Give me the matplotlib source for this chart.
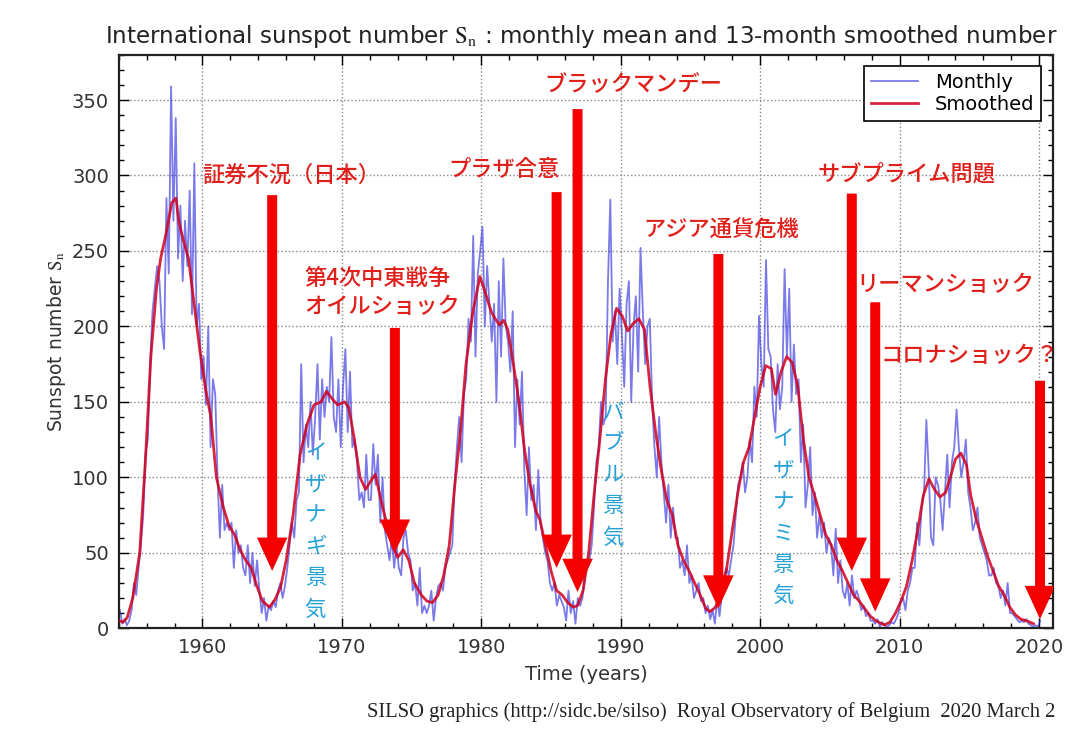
import numpy as np
import matplotlib
matplotlib.use('Agg')
import matplotlib.pyplot as plt
from matplotlib.patches import FancyArrowPatch, ArrowStyle
from matplotlib.ticker import MultipleLocator

plt.rcParams['font.family'] = ['DejaVu Sans', 'Noto Sans CJK JP']
plt.rcParams['mathtext.fontset'] = 'stix'

# ---------------- data ----------------
# monthly mean sunspot number, sampled every two months (6 values per year) from 1954
monthly_start = 1954.0
monthly_sn = [
    12, 3, 6, 2, 5, 12,            # 1954
    30, 22, 40, 55, 75, 115,       # 1955
    125, 175, 210, 225, 240, 230,  # 1956
    200, 185, 285, 235, 359, 270,  # 1957
    338, 245, 280, 230, 270, 240,  # 1958
    290, 208, 308, 200, 215, 165,  # 1959
    180, 148, 200, 120, 165, 155,  # 1960
    100, 60, 95, 65, 70, 65,       # 1961
    70, 40, 65, 50, 55, 40,        # 1962
    35, 55, 30, 50, 28, 45,        # 1963
    25, 10, 20, 5, 15, 12,         # 1964
    18, 14, 25, 30, 20, 28,        # 1965
    40, 55, 70, 60, 85, 90,        # 1966
    175, 110, 135, 120, 150, 115,  # 1967
    140, 175, 125, 165, 140, 160,  # 1968
    150, 193, 140, 130, 165, 120,  # 1969
    160, 185, 130, 170, 120, 125,  # 1970
    110, 85, 90, 80, 115, 85,      # 1971
    85, 122, 95, 115, 70, 100,     # 1972
    65, 55, 45, 60, 40, 55,        # 1973
    40, 35, 60, 65, 50, 45,        # 1974
    25, 30, 15, 40, 10, 15,        # 1975
    10, 15, 25, 5, 20, 28,         # 1976
    30, 25, 40, 45, 50, 55,        # 1977
    95, 120, 140, 110, 155, 165,   # 1978
    205, 190, 260, 180, 235, 250,  # 1979
    266, 200, 240, 215, 190, 215,  # 1980
    150, 230, 180, 245, 200, 190,  # 1981
    170, 210, 120, 165, 135, 170,  # 1982
    105, 75, 120, 85, 95, 65,      # 1983
    105, 70, 60, 50, 45, 30,       # 1984
    25, 30, 15, 22, 18, 14,        # 1985
    5, 25, 10, 18, 3, 20,          # 1986
    15, 20, 35, 40, 45, 55,        # 1987
    80, 110, 120, 150, 135, 140,   # 1988
    230, 284, 190, 210, 175, 225,  # 1989
    195, 160, 215, 230, 150, 200,  # 1990
    220, 170, 252, 210, 175, 200,  # 1991
    205, 150, 120, 100, 140, 110,  # 1992
    90, 70, 95, 60, 80, 60,        # 1993
    60, 40, 45, 35, 55, 30,        # 1994
    35, 20, 25, 30, 18, 20,        # 1995
    10, 15, 6, 12, 3, 20,          # 1996
    8, 22, 25, 40, 35, 45,         # 1997
    55, 75, 95, 100, 110, 90,      # 1998
    100, 125, 110, 160, 140, 207,  # 1999
    175, 160, 244, 185, 180, 145,  # 2000
    130, 175, 145, 160, 238, 180,  # 2001
    225, 150, 188, 155, 165, 110,  # 2002
    135, 80, 95, 120, 75, 90,      # 2003
    60, 75, 60, 70, 50, 60,        # 2004
    55, 35, 66, 30, 45, 25,        # 2005
    20, 30, 15, 35, 20, 25,        # 2006
    20, 12, 15, 8, 10, 5,          # 2007
    5, 3, 6, 1, 4, 2,              # 2008
    1, 2, 4, 3, 6, 10,             # 2009
    18, 20, 12, 25, 30, 40,        # 2010
    40, 70, 55, 80, 90, 138,       # 2011
    105, 60, 55, 100, 95, 85,      # 2012
    65, 90, 115, 80, 110, 120,     # 2013
    145, 120, 100, 110, 125, 90,   # 2014
    80, 65, 70, 80, 60, 55,        # 2015
    50, 45, 35, 35, 40, 30,        # 2016
    28, 20, 25, 15, 30, 10,        # 2017
    10, 8, 6, 4, 5, 4,             # 2018
    6, 3, 2, 1, 2, 1,              # 2019
    5,                             # 2020
]

# 13-month smoothed sunspot number
smooth_years = [
    1954.0, 1954.3, 1954.6, 1955.0, 1955.5, 1955.9, 1956.3, 1956.7, 1957.0, 1957.4,
    1957.8, 1958.1, 1958.3, 1958.6, 1959.0, 1959.4, 1959.8, 1960.2, 1960.6, 1961.0,
    1961.5, 1961.9, 1962.3, 1962.7, 1963.1, 1963.5, 1963.9, 1964.3, 1964.8, 1965.2,
    1965.6, 1966.0, 1966.5, 1967.0, 1967.5, 1968.0, 1968.5, 1968.9, 1969.3, 1969.7,
    1970.2, 1970.5, 1970.9, 1971.3, 1971.7, 1972.1, 1972.4, 1972.8, 1973.2, 1973.6,
    1974.0, 1974.4, 1974.8, 1975.2, 1975.7, 1976.1, 1976.5, 1976.9, 1977.3, 1977.7,
    1978.1, 1978.5, 1978.9, 1979.4, 1979.9, 1980.3, 1980.7, 1981.0, 1981.3, 1981.6,
    1981.9, 1982.3, 1982.7, 1983.1, 1983.5, 1983.9, 1984.2, 1984.6, 1985.0, 1985.4,
    1985.8, 1986.2, 1986.6, 1986.9, 1987.3, 1987.7, 1988.1, 1988.5, 1988.9, 1989.3,
    1989.7, 1990.1, 1990.5, 1990.9, 1991.3, 1991.7, 1992.1, 1992.5, 1992.9, 1993.3,
    1993.7, 1994.1, 1994.5, 1994.9, 1995.3, 1995.7, 1996.1, 1996.4, 1996.8, 1997.2,
    1997.6, 1998.0, 1998.4, 1998.8, 1999.2, 1999.6, 2000.0, 2000.4, 2000.8, 2001.1,
    2001.5, 2001.9, 2002.3, 2002.7, 2003.1, 2003.5, 2003.9, 2004.3, 2004.7, 2005.1,
    2005.5, 2005.9, 2006.3, 2006.7, 2007.1, 2007.5, 2007.9, 2008.3, 2008.9, 2009.3,
    2009.7, 2010.1, 2010.5, 2010.9, 2011.3, 2011.7, 2012.1, 2012.5, 2012.9, 2013.3,
    2013.7, 2014.0, 2014.4, 2014.8, 2015.1, 2015.5, 2015.9, 2016.3, 2016.7, 2017.1,
    2017.5, 2017.9, 2018.3, 2018.7, 2019.1, 2019.6,
]
smooth_sn = [
    5, 4, 7, 20, 50, 110, 180, 225, 245, 262,
    282, 285, 270, 258, 245, 215, 185, 160, 140, 100,
    80, 68, 62, 52, 45, 40, 28, 18, 14, 19,
    27, 45, 75, 115, 135, 148, 150, 157, 152, 148,
    150, 146, 125, 100, 92, 98, 102, 85, 70, 55,
    47, 52, 45, 30, 22, 18, 17, 22, 35, 55,
    95, 130, 175, 210, 233, 222, 210, 205, 201, 204,
    198, 175, 150, 118, 95, 78, 72, 55, 38, 25,
    22, 17, 14, 15, 25, 50, 90, 125, 165, 195,
    212, 207, 197, 202, 205, 198, 160, 130, 105, 85,
    75, 55, 45, 38, 30, 22, 13, 11, 14, 25,
    40, 65, 90, 110, 120, 140, 160, 174, 172, 155,
    170, 180, 176, 160, 125, 100, 88, 75, 62, 55,
    45, 38, 30, 22, 18, 13, 8, 5, 2.2, 4,
    10, 18, 28, 45, 65, 88, 99, 92, 87, 90,
    102, 112, 116, 108, 88, 72, 60, 48, 38, 28,
    22, 14, 9, 6, 5, 3,
]

# economic events (arrow year, arrow top value, arrow tip value)
events = ['証券不況（日本）', '第4次中東戦争\nオイルショック', 'プラザ合意', 'ブラックマンデー',
          'アジア通貨危機', 'サブプライム問題', 'リーマンショック', 'コロナショック？']
event_year = [1965.0, 1973.8, 1985.4, 1986.9, 1997.0, 2006.57, 2008.25, 2020.07]
arrow_top = [287, 199, 289, 344, 248, 288, 216, 164]
arrow_tip = [38, 50, 40, 24, 13, 38, 11, 6]

booms = ['イザナギ景気', 'バブル景気', 'イザナミ景気']
boom_year = [1968.1, 1989.45, 2001.65]

# layout of the event labels (x, y in data units, horizontal alignment)
label_pos = [(1966.4, 300, 'center'), (1967.3, 222, 'left'), (1981.65, 304, 'center'),
             (1990.9, 360, 'center'), (1997.2, 264, 'center'), (2010.5, 301, 'center'),
             (2013.3, 228, 'center'), (2015.0, 181, 'center')]
boom_top = [116, 143, 125]

# ---------------- figure ----------------
fig = plt.figure(figsize=(10.8, 7.4), dpi=100)
ax = fig.add_axes([0.110, 0.151, 0.865, 0.775])

t_month = monthly_start + (np.arange(len(monthly_sn)) + 0.5) / 6.0
ax.plot(t_month, monthly_sn, color='#2828dd', lw=1.3, alpha=0.62, label='Monthly', zorder=2)
ax.plot(smooth_years, smooth_sn, color='#d0001c', lw=2.0, alpha=0.85, label='Smoothed', zorder=3)

ax.set_xlim(1954.0, 2021.0)
ax.set_ylim(0, 380)
ax.xaxis.set_major_locator(MultipleLocator(10))
ax.xaxis.set_minor_locator(MultipleLocator(2))
ax.yaxis.set_major_locator(MultipleLocator(50))
ax.yaxis.set_minor_locator(MultipleLocator(10))
ax.tick_params(which='both', direction='in', top=True, right=True, colors='black',
               labelcolor='#333333', labelsize=14, pad=7)
ax.tick_params(which='major', length=7, width=1)
ax.tick_params(which='minor', length=3.5, width=1)
ax.grid(True, which='major', linestyle=':', color='#888888', lw=1.0)
for s in ax.spines.values():
    s.set_linewidth(1.6)
    s.set_color('#222222')

ax.set_xlabel('Time (years)', fontsize=14, color='#333333', labelpad=6)
ax.set_ylabel(r'Sunspot number $\mathrm{S_n}$', fontsize=13.5, color='#333333', labelpad=3)

fig.text(0.538, 0.951, r'International sunspot number $\mathrm{S_n}$ : monthly mean and 13-month smoothed number',
         ha='center', va='center', fontsize=16.6, color='#222222')
fig.text(0.977, 0.038, 'SILSO graphics (http://sidc.be/silso)  Royal Observatory of Belgium  2020 March 2',
         ha='right', va='center', fontsize=14.8, family='Liberation Serif', color='#222222')

leg = ax.legend(loc='upper right', fontsize=14, fancybox=False, framealpha=1,
                edgecolor='black', handlelength=2.4, borderaxespad=0.6, labelspacing=0.15,
                handletextpad=0.9, borderpad=0.35)
leg.get_frame().set_linewidth(1.2)
leg.set_zorder(10)

cjk = ['Noto Sans CJK JP', 'DejaVu Sans']
red_text = '#e01f1a'
arrow_red = '#f40000'
style = ArrowStyle.Simple(head_length=24, head_width=22, tail_width=7.2)
for x, top, tip in zip(event_year, arrow_top, arrow_tip):
    ax.add_patch(FancyArrowPatch((x, top), (x, tip), arrowstyle=style, mutation_scale=1,
                                 color=arrow_red, lw=0, shrinkA=0, shrinkB=0, zorder=6))

for text, (lx, ly, ha) in zip(events, label_pos):
    ax.text(lx, ly, text, ha=ha, va='center', fontsize=16, color=red_text,
            family=cjk, fontweight='medium', linespacing=1.2, zorder=7)

blue_text = '#27a2d8'
for word, bx, by in zip(booms, boom_year, boom_top):
    for i, ch in enumerate(word):
        ax.annotate(ch, xy=(bx, by), xytext=(0, -i * 22.5), textcoords='offset points',
                    ha='center', va='center', fontsize=15.5, color=blue_text,
                    family=cjk, zorder=7)

fig.savefig('out.png', dpi=100, facecolor='white')
